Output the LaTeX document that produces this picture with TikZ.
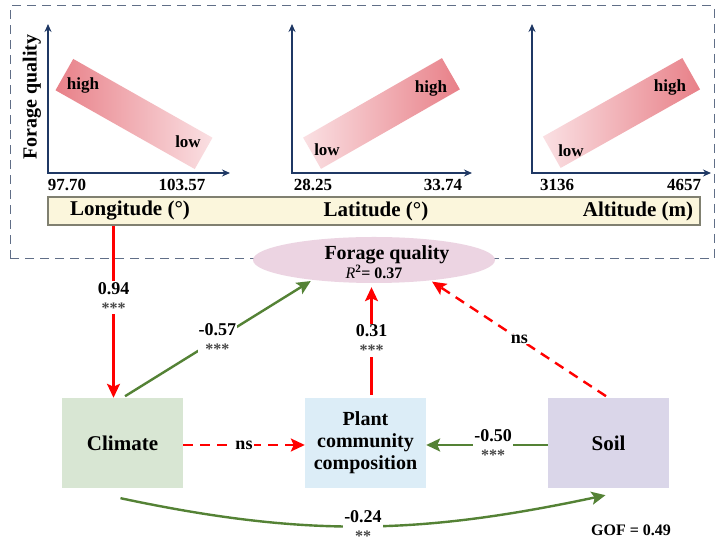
\documentclass[tikz,border=0pt]{standalone}
\usepackage{fontspec}
\setmainfont{Liberation Serif}
\usepackage{xcolor}
\usetikzlibrary{arrows.meta,shapes.geometric}
\definecolor{arrred}{RGB}{255,0,0}
\definecolor{arrgreen}{RGB}{84,130,53}
\definecolor{axisblue}{RGB}{31,56,100}
\definecolor{framegray}{RGB}{96,110,135}
\definecolor{bandhi}{RGB}{232,128,136}
\definecolor{bandlo}{RGB}{250,224,227}
\definecolor{barfill}{RGB}{251,246,220}
\definecolor{bargray}{RGB}{128,128,112}
\definecolor{fqfill}{RGB}{236,212,226}
\definecolor{climfill}{RGB}{216,230,211}
\definecolor{plantfill}{RGB}{220,237,247}
\definecolor{soilfill}{RGB}{218,214,233}
\definecolor{stargray}{RGB}{70,70,70}
\newcommand{\fs}[1]{\fontsize{#1}{#1}\selectfont}
\newcommand{\coef}[2]{{\fs{18}#1}\\[1pt]{\fs{16}\color{stargray}#2}}

\begin{document}
\begin{tikzpicture}[x=1pt, y=1pt, every node/.style={align=center, font=\bfseries\fs{17}},
    box/.style={minimum width=121pt, minimum height=90pt, inner sep=2pt, font=\bfseries\fs{21}},
    band/.style={minimum width=160pt, minimum height=36pt, inner sep=0pt},
    axis/.style={axisblue, line width=1.6pt, {Stealth[length=8pt,width=7pt]}-{Stealth[length=8pt,width=7pt]}},
    redarr/.style={arrred, line width=2.4pt, -{Stealth[length=14pt,width=13pt,inset=3pt]}},
    reddash/.style={redarr, dash pattern=on 10pt off 7pt},
    grnarr/.style={arrgreen, line width=2.4pt, -{Stealth[length=14pt,width=13pt,inset=3pt]}},
    lab/.style={fill=white, text=black, inner sep=1pt, font=\bfseries\fs{18}}]
  \fill[white] (0,0) rectangle (724,546);
  \useasboundingbox (0,0) rectangle (724,546);
  \draw[framegray, line width=1pt, dash pattern=on 9pt off 6pt] (10,287) rectangle (714,540);

  \foreach \x/\e in {48/230, 292/472, 532/711}
    \draw[axis] (\x,522) -- (\x,373) -- (\e,373);
  \node[band, rotate=-29.5, left color=bandhi, right color=bandlo] (band1) at (134,432) {};
  \node[band, rotate=29.8, left color=bandlo, right color=bandhi] (band2) at (381.5,432.5) {};
  \node[band, rotate=29.4, left color=bandlo, right color=bandhi] (band3) at (621.5,433) {};
  \node (hi1) at (83,461) {high};
  \node (lo1) at (188,404) {low};
  \node (lo2) at (327,396) {low};
  \node (hi2) at (431,458) {high};
  \node (lo3) at (571,395) {low};
  \node (hi3) at (670,459) {high};
  \node[rotate=90, font=\bfseries\fs{20}] (ylab) at (32,449) {Forage quality};
  \node (t1a) at (67,361) {97.70};
  \node (t1b) at (182,361) {103.57};
  \node (t2a) at (313,361) {28.25};
  \node (t2b) at (443,361) {33.74};
  \node (t3a) at (557,361) {3136};
  \node (t3b) at (684,361) {4657};

  \node[draw=bargray, fill=barfill, line width=1.2pt, minimum width=652pt, minimum height=28pt, inner sep=0pt] (Bar) at (374,335) {};
  \node[font=\bfseries\fs{21}] (lon) at (130,335) {Longitude (°)};
  \node[font=\bfseries\fs{21}] (lat) at (376,335) {Latitude (°)};
  \node[font=\bfseries\fs{21}] (alt) at (638,335) {Altitude (m)};

  \node[ellipse, fill=fqfill, minimum width=242pt, minimum height=46pt, inner sep=0pt,
    label={[font=\bfseries\fs{20}, yshift=-2pt]center:\hspace*{26pt}Forage quality\\[-1pt]{\fs{16}\textit{\mdseries R}\textsuperscript{2}= 0.37}}] (FQ) at (374,286) {};
  \node[box, fill=climfill] (Cl) at (122.5,103) {Climate};
  \node[box, fill=plantfill, font=\bfseries\fontsize{20}{22}\selectfont] (Pl) at (365.5,103) {Plant\\community\\composition};
  \node[box, fill=soilfill] (So) at (608.5,103) {Soil};
  \node[font=\bfseries\fs{16}] (gof) at (631,16) {GOF = 0.49};

  \draw[redarr] ([xshift=-9pt]Cl.north |- Bar.south) -- ([xshift=-9pt]Cl.north) node[lab, pos=0.42] {\coef{0.94}{***}};
  \draw[grnarr, shorten <=3pt, shorten >=2pt] (Cl.north) -- (FQ.198) node[lab, midway] {\coef{-0.57}{***}};
  \draw[redarr, shorten <=3pt, shorten >=4pt] ([xshift=6pt]Pl.north) -- ([xshift=6pt]Pl.north |- FQ.south) node[lab, midway] {\coef{0.31}{***}};
  \draw[reddash, shorten <=3pt, shorten >=2pt] (So.north) -- (FQ.-20) node[lab, midway] {ns};
  \draw[reddash] ([yshift=-2pt]Cl.east) -- ([yshift=-2pt]Pl.west) node[lab, midway] {ns};
  \draw[grnarr] ([yshift=-2pt]So.west) -- ([yshift=-2pt]Pl.east) node[lab, pos=0.45] {\coef{-0.50}{***}};
  \draw[grnarr] ([xshift=-2pt,yshift=-10pt]Cl.south) to[out=-12, in=192] node[lab, midway] {\coef{-0.24}{**}} ([xshift=-3pt,yshift=-7pt]So.south);
\end{tikzpicture}
\end{document}
